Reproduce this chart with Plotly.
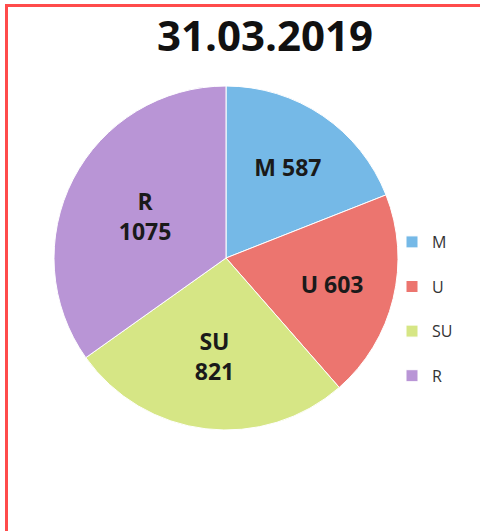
import plotly.graph_objects as go

title_text = "31.03.2019"
categories = ["M", "U", "SU", "R"]
values = [587, 603, 821, 1075]
colors = ["#75B9E7", "#EC756F", "#D6E685", "#B995D6"]

W, H = 480, 531
cx, cy, r = 226, 258, 172

# legend entries get an empty second line so that the entries are spaced like the reference
legend_labels = [c + "<br> " for c in categories]

fig = go.Figure(
    go.Pie(
        labels=legend_labels,
        customdata=categories,
        values=values,
        sort=False,
        direction="clockwise",
        rotation=0,
        marker=dict(colors=colors, line=dict(color="white", width=1)),
        texttemplate=["%{customdata} %{value}", "%{customdata} %{value}",
                      "%{customdata}<br>%{value}", "%{customdata}<br>%{value}"],
        textposition="inside",
        insidetextorientation="horizontal",
        insidetextfont=dict(family="Open Sans", size=23, color="#1a1a1a", weight="bold"),
        domain=dict(x=[(cx - r) / W, (cx + r) / W],
                    y=[(H - cy - r) / H, (H - cy + r) / H]),
        hovertemplate="%{customdata}: %{value} (%{percent})<extra></extra>",
    )
)

fig.update_layout(
    width=W,
    height=H,
    margin=dict(l=0, r=0, t=0, b=0),
    paper_bgcolor="white",
    font=dict(family="Open Sans"),
    title=dict(
        text=title_text,
        x=265 / W,
        xanchor="center",
        y=1 - 36 / H,
        yanchor="middle",
        yref="container",
        font=dict(family="Open Sans", size=42, color="#111111", weight="bold"),
    ),
    legend=dict(
        x=392 / W,
        xanchor="left",
        y=1 - 225 / H,
        yanchor="top",
        valign="top",
        font=dict(family="Open Sans", size=16, color="#333333"),
        bgcolor="rgba(0,0,0,0)",
    ),
    shapes=[
        dict(type="rect", xref="paper", yref="paper",
             x0=6.5 / W, x1=1.05, y0=-0.05, y1=1 - 5.5 / H,
             line=dict(color="#FF4B4B", width=3), fillcolor="rgba(0,0,0,0)",
             layer="above"),
    ],
)

fig.write_html("out.html", config={"displayModeBar": False},
               post_script="document.body.style.margin='0';")
